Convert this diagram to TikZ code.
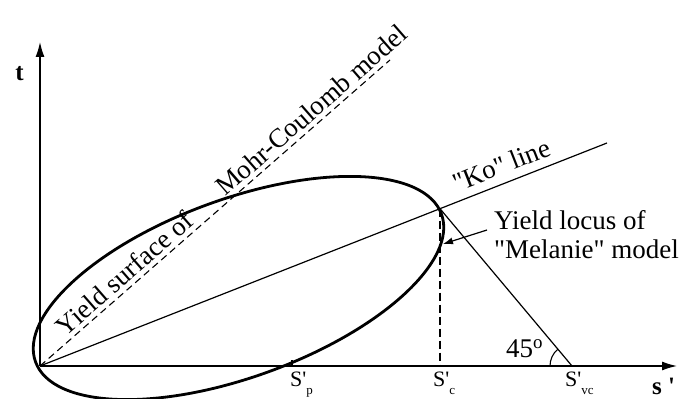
\documentclass[tikz,border=0pt]{standalone}
\usepackage{fontspec}
\setmainfont{Liberation Serif}
\usetikzlibrary{arrows.meta}
\newcommand\lowsub[1]{\raisebox{-7pt}{\fontsize{13}{13}\selectfont #1}}
\begin{document}
\begin{tikzpicture}[x=1pt,y=1pt,
  axis/.style={line width=1.3pt,-{Latex[length=15pt,width=9pt]}},
  thinline/.style={line width=1.2pt},
  mcline/.style={line width=1.1pt,dash pattern=on 7pt off 4.5pt},
  vdash/.style={line width=2pt,dash pattern=on 8pt off 4pt},
  locus/.style={line width=2.8pt},
  big/.style={font=\fontsize{27}{30}\selectfont, inner sep=0pt},
  slabel/.style={font=\fontsize{22}{24}\selectfont, inner sep=0pt, anchor=base west},
  axlabel/.style={font=\fontsize{25}{28}\selectfont\bfseries, inner sep=0pt},
  pointer/.style={line width=1.2pt,-{Latex[length=10pt,width=7pt]}},
]
\useasboundingbox (0,0) rectangle (691,399);
% key points
\coordinate (O) at (40,33);
\coordinate (tTop) at (40,357);
\coordinate (sEnd) at (677,33);
\coordinate (KoEnd) at (607,256);
\coordinate (MCEnd) at (390,339);
\coordinate (E) at (238.5,111);
\coordinate (C) at (440,190.3);
\coordinate (Sc) at (440,33);
\coordinate (Svc) at (572,33);
\coordinate (Sp) at (292,33);
\coordinate (SpTop) at (292,39);
\coordinate (ArcStart) at (550,33);
\coordinate (PtrTail) at (487,169);
\coordinate (PtrTip) at (443,155);

% yield locus ellipse
\draw[locus, rotate around={20:(E)}] (E) ellipse [x radius=216, y radius=89];

% axes
\draw[axis] (O) -- (tTop);
\draw[axis] (O) -- (sEnd);

% lines
\draw[thinline] (O) -- (KoEnd);
\draw[mcline] (O) -- (MCEnd);
\draw[thinline] (C) -- (Svc);
\draw[vdash] (C) -- (Sc);
\draw[thinline] (Sp) -- (SpTop);
\draw[line width=1.1pt] (ArcStart) arc[start angle=180, end angle=130, radius=22];
\draw[pointer] (PtrTail) -- (PtrTip);

% labels
\node[axlabel] (tlab) at (19.5,325.5) {t};
\node[axlabel, anchor=base west] (slab) at (652,4) {s \textquotesingle};
\node[big, anchor=base west, rotate=41.16] (mc1) at (65.3,61.8) {Yield surface of};
\node[big, anchor=base west, rotate=41.16] (mc2) at (225.7,202) {Mohr-Coulomb model};
\node[big, anchor=base west, rotate=21.47] (ko) at (457.3,206.8) {\textquotedbl Ko\textquotedbl{} line};
\node[big, anchor=base west] (loc1) at (494,169) {Yield locus of};
\node[big, anchor=base west] (loc2) at (494,140) {\textquotedbl Melanie\textquotedbl{} model};
\node[big, anchor=base west] (ang) at (506,41) {45\textsuperscript{o}};
\node[slabel] (lp) at (290,12) {S\textquotesingle\lowsub{p}};
\node[slabel] (lc) at (433,12) {S\textquotesingle\lowsub{c}};
\node[slabel] (lvc) at (565,12) {S\textquotesingle\lowsub{vc}};
\end{tikzpicture}
\end{document}
